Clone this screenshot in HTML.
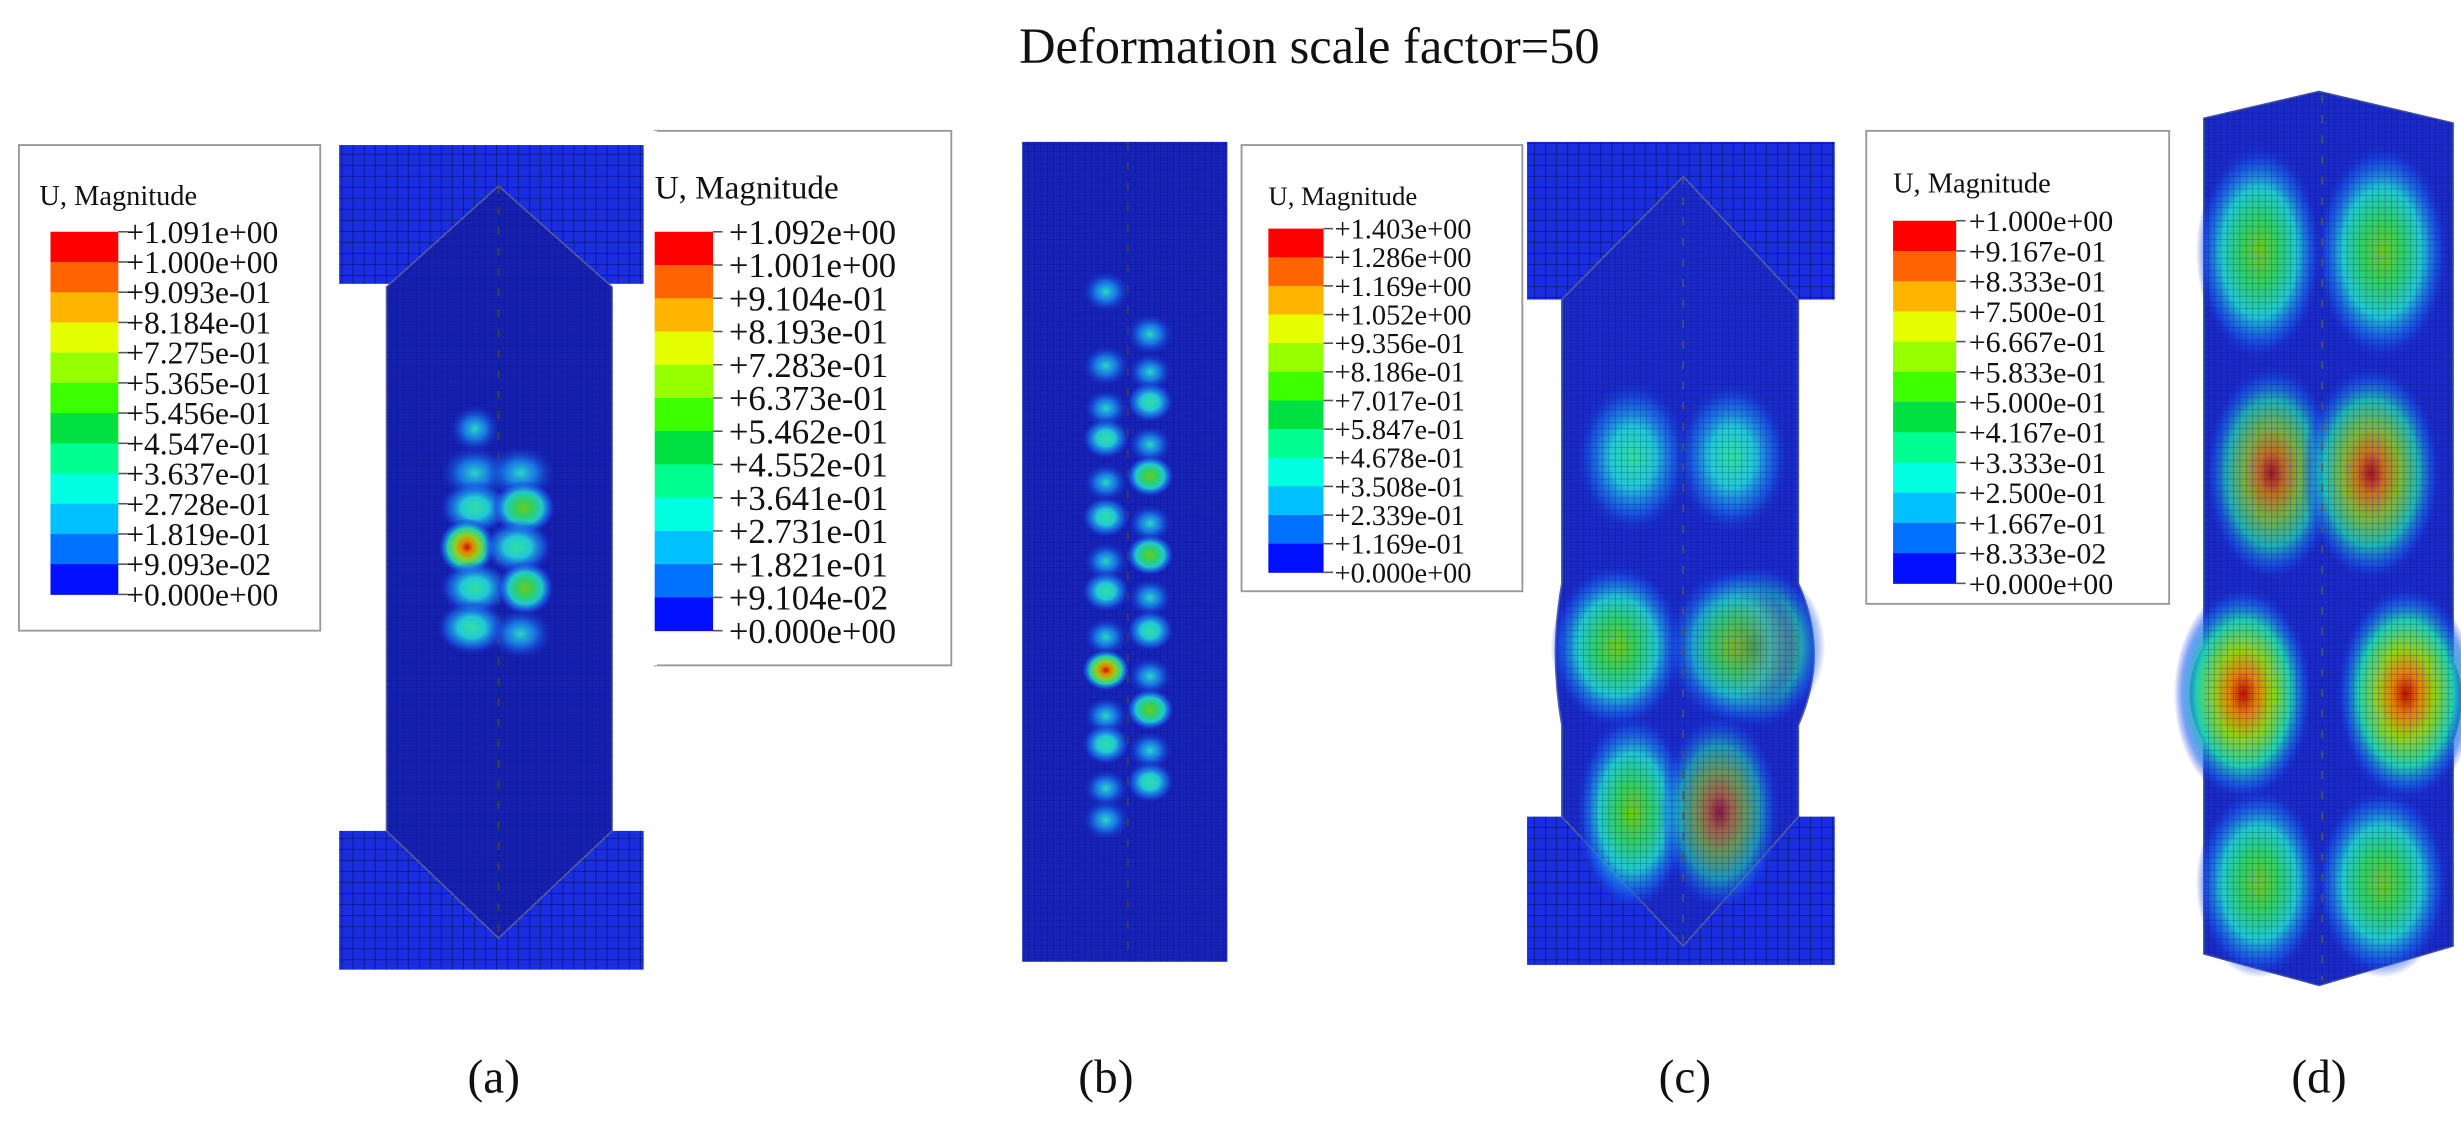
<!DOCTYPE html>
<html><head><meta charset="utf-8"><style>
html,body{margin:0;padding:0;background:#fff;}
svg{display:block;font-family:"Liberation Serif","Times New Roman",serif;}
svg text{font-family:"Liberation Serif","Times New Roman",serif;fill:#111;}
</style></head><body>
<svg id="fig" width="2461" height="1121" viewBox="0 0 1560 711" preserveAspectRatio="none" xmlns="http://www.w3.org/2000/svg" font-family="Liberation Serif, serif">
<defs>
<pattern id="meshF" width="7" height="7" patternUnits="userSpaceOnUse"><path d="M7 0V7H0" fill="none" stroke="#06106a" stroke-width="0.8"/></pattern>
<pattern id="meshC" width="4" height="4" patternUnits="userSpaceOnUse"><path d="M4 0V4H0" fill="none" stroke="#050c60" stroke-width="0.5" opacity="0.6"/></pattern>
<radialGradient id="gBlue"><stop offset="0" stop-color="#2ad8c8"/><stop offset="0.45" stop-color="#1a8cf0" stop-opacity="0.8"/><stop offset="1" stop-color="#1530d0" stop-opacity="0"/></radialGradient>
<radialGradient id="gCyan"><stop offset="0" stop-color="#30e0a0"/><stop offset="0.4" stop-color="#22c8d8"/><stop offset="0.75" stop-color="#1a70f0" stop-opacity="0.6"/><stop offset="1" stop-color="#1530d0" stop-opacity="0"/></radialGradient>
<radialGradient id="gGreen"><stop offset="0" stop-color="#70c820"/><stop offset="0.3" stop-color="#30d060"/><stop offset="0.6" stop-color="#20c8d0"/><stop offset="0.85" stop-color="#1a60f0" stop-opacity="0.6"/><stop offset="1" stop-color="#1530d0" stop-opacity="0"/></radialGradient>
<radialGradient id="gRed"><stop offset="0" stop-color="#c01000"/><stop offset="0.2" stop-color="#e88000"/><stop offset="0.42" stop-color="#90d020"/><stop offset="0.68" stop-color="#20d0b0"/><stop offset="0.88" stop-color="#1a60f0" stop-opacity="0.6"/><stop offset="1" stop-color="#1530d0" stop-opacity="0"/></radialGradient>
</defs>
<text x="830" y="40" font-size="32" text-anchor="middle">Deformation scale factor=50</text>

<!-- Panel a -->
<g>
<rect x="215" y="92" width="193" height="88" fill="#1a2ee0"/><rect x="215" y="92" width="193" height="88" fill="url(#meshF)"/>
<rect x="215" y="527" width="193" height="88" fill="#1a2ee0"/><rect x="215" y="527" width="193" height="88" fill="url(#meshF)"/>
<polygon points="316,118 388,182 388,527 316,595 245,527 245,182" fill="#1620b0" stroke="#5560a0" stroke-width="1"/>
<polygon points="316,118 388,182 388,527 316,595 245,527 245,182" fill="url(#meshC)"/>
<line x1="316" y1="118" x2="316" y2="595" stroke="#444" stroke-width="1" stroke-dasharray="5 8"/>
<ellipse cx="301" cy="272" rx="16" ry="15" fill="url(#gBlue)"/>
<ellipse cx="301" cy="300" rx="22" ry="17" fill="url(#gBlue)"/><ellipse cx="330" cy="300" rx="22" ry="17" fill="url(#gBlue)"/>
<ellipse cx="301" cy="322" rx="22" ry="17" fill="url(#gCyan)"/><ellipse cx="332" cy="322" rx="20" ry="17" fill="url(#gGreen)"/>
<ellipse cx="296" cy="347" rx="18" ry="18" fill="url(#gRed)"/><ellipse cx="328" cy="347" rx="22" ry="17" fill="url(#gCyan)"/>
<ellipse cx="301" cy="373" rx="22" ry="17" fill="url(#gCyan)"/><ellipse cx="333" cy="373" rx="18" ry="17" fill="url(#gGreen)"/>
<ellipse cx="299" cy="398" rx="22" ry="17" fill="url(#gCyan)"/><ellipse cx="330" cy="402" rx="20" ry="16" fill="url(#gBlue)"/>
</g>

<!-- Panel b -->
<g>
<rect x="648" y="90" width="130" height="520" fill="#1622b8"/><rect x="648" y="90" width="130" height="520" fill="url(#meshC)"/>
<line x1="715" y1="90" x2="715" y2="610" stroke="#444" stroke-width="1" stroke-dasharray="5 8"/>
<g id="bBlobs"></g>
</g>

<!-- Panel c -->
<g>
<rect x="968" y="90" width="195" height="100" fill="#1a2ee0"/><rect x="968" y="90" width="195" height="100" fill="url(#meshF)"/>
<rect x="968" y="518" width="195" height="94" fill="#1a2ee0"/><rect x="968" y="518" width="195" height="94" fill="url(#meshF)"/>
<path d="M1067,112 L1140,190 L1140,370 Q1160,415 1140,460 L1140,518 L1067,600 L990,518 L990,460 Q982,415 990,370 L990,190 Z" fill="#1a2ac8" stroke="#5560a0" stroke-width="1"/>
<ellipse cx="1035" cy="290" rx="36" ry="48" fill="url(#gCyan)"/><ellipse cx="1098" cy="290" rx="36" ry="48" fill="url(#gCyan)"/>
<ellipse cx="1025" cy="410" rx="42" ry="52" fill="url(#gGreen)"/><ellipse cx="1112" cy="410" rx="45" ry="52" fill="url(#gRed)" opacity="0.7"/><ellipse cx="1098" cy="410" rx="42" ry="50" fill="url(#gGreen)" opacity="0.7"/>
<ellipse cx="1035" cy="515" rx="36" ry="62" fill="url(#gGreen)"/><ellipse cx="1090" cy="515" rx="38" ry="62" fill="url(#gRed)" opacity="0.65"/>
<path d="M1067,112 L1140,190 L1140,518 L1067,600 L990,518 L990,190 Z" fill="url(#meshC)"/>
<line x1="1067" y1="112" x2="1067" y2="600" stroke="#555" stroke-width="1" stroke-dasharray="5 8"/>
</g>

<!-- Panel d -->
<g>
<path d="M1397,75 L1470,58 L1555,78 L1555,420 Q1565,440 1555,470 L1555,600 L1470,625 L1397,605 L1397,470 Q1380,440 1397,410 Z" fill="#1a2ac8" stroke="#4050a0" stroke-width="1"/>
<ellipse cx="1432" cy="160" rx="40" ry="68" fill="url(#gGreen)"/><ellipse cx="1510" cy="160" rx="42" ry="68" fill="url(#gGreen)"/>
<ellipse cx="1440" cy="300" rx="42" ry="68" fill="url(#gRed)" opacity="0.8"/><ellipse cx="1503" cy="300" rx="44" ry="68" fill="url(#gRed)" opacity="0.85"/>
<ellipse cx="1422" cy="440" rx="44" ry="68" fill="url(#gRed)"/><ellipse cx="1525" cy="440" rx="44" ry="68" fill="url(#gRed)"/>
<ellipse cx="1432" cy="560" rx="40" ry="60" fill="url(#gGreen)"/><ellipse cx="1510" cy="560" rx="42" ry="60" fill="url(#gGreen)"/>
<path d="M1397,75 L1470,58 L1555,78 L1555,600 L1470,625 L1397,605 Z" fill="url(#meshC)"/>
<line x1="1472" y1="60" x2="1472" y2="622" stroke="#555" stroke-width="1" stroke-dasharray="5 8"/>
</g>

<g id="legends"></g>

<text x="313" y="693" font-size="30" text-anchor="middle">(a)</text>
<text x="701" y="693" font-size="30" text-anchor="middle">(b)</text>
<text x="1068" y="693" font-size="30" text-anchor="middle">(c)</text>
<text x="1470" y="693" font-size="30" text-anchor="middle">(d)</text>
</svg>
<script>
const bandColors = ["#ff0000","#ff6400","#ffb400","#e6ff00","#96ff00","#3cff00","#00e040","#00ff90","#00ffe0","#00c0ff","#0070ff","#0010ff"];
const labelsA = ["+1.091e+00","+1.000e+00","+9.093e-01","+8.184e-01","+7.275e-01","+5.365e-01","+5.456e-01","+4.547e-01","+3.637e-01","+2.728e-01","+1.819e-01","+9.093e-02","+0.000e+00"];
const labelsB = ["+1.092e+00","+1.001e+00","+9.104e-01","+8.193e-01","+7.283e-01","+6.373e-01","+5.462e-01","+4.552e-01","+3.641e-01","+2.731e-01","+1.821e-01","+9.104e-02","+0.000e+00"];
const labelsC = ["+1.403e+00","+1.286e+00","+1.169e+00","+1.052e+00","+9.356e-01","+8.186e-01","+7.017e-01","+5.847e-01","+4.678e-01","+3.508e-01","+2.339e-01","+1.169e-01","+0.000e+00"];
const labelsD = ["+1.000e+00","+9.167e-01","+8.333e-01","+7.500e-01","+6.667e-01","+5.833e-01","+5.000e-01","+4.167e-01","+3.333e-01","+2.500e-01","+1.667e-01","+8.333e-02","+0.000e+00"];
const NS = "http://www.w3.org/2000/svg";
function mk(tag, attrs, parent){const e=document.createElementNS(NS,tag);for(const k in attrs)e.setAttribute(k,attrs[k]);parent.appendChild(e);return e;}
const legSpecs = [
 {id:"a",labels:labelsA,box:[12,92,191,308],title:[25,130,18],bar:[32,147,43,230],fs:20,lx:80,left:true},
 {id:"b",labels:labelsB,box:[415,83,188,339],title:[415,126,21],bar:[415,147,37,253],fs:22,lx:462,left:false},
 {id:"c",labels:labelsC,box:[787,92,178,283],title:[804,130,17],bar:[804,145,35,218],fs:18,lx:846,left:true},
 {id:"d",labels:labelsD,box:[1183,83,192,300],title:[1200,122,18],bar:[1200,140,40,230],fs:19,lx:1248,left:true}
];
const lg = document.getElementById("legends");
legSpecs.forEach(s=>{
  const g = mk("g",{},lg);
  
  
  const [bx,by,bw,bh]=s.box;
  mk("rect",{x:bx,y:by,width:bw,height:bh,fill:"#fff",stroke:"#999","stroke-width":1.2},g);
  if(!s.left){ mk("line",{x1:bx,y1:by,x2:bx,y2:by+bh,stroke:"#fff","stroke-width":3},g); }
  const t = mk("text",{x:s.title[0],y:s.title[1],"font-size":s.title[2],"font-family":"Liberation Serif, serif"},g);
  t.textContent="U, Magnitude";
  
  
  const [cx,cy,cw,ch]=s.bar; const n=bandColors.length; const h=ch/n;
  bandColors.forEach((c,i)=>{
    const b = mk("rect",{x:cx,y:cy+i*h,width:cw,height:h+0.3,fill:c},g);
    
    
  });
  s.labels.forEach((l,i)=>{
    const y=cy+i*h;
    mk("line",{x1:cx+cw,y1:y,x2:cx+cw+6,y2:y,stroke:"#555","stroke-width":1},g);
    const tx = mk("text",{x:s.lx,y:y+s.fs*0.35,"font-size":s.fs,"font-family":"Liberation Serif, serif"},g);
    tx.textContent=l;
    
    
  });
});
const bBlobRows = [185,212,232,255,278,302,328,352,375,400,425,450,472,496,520];
const bBlobKinds = ["gBlue","gBlue","gBlue","gCyan","gCyan","gGreen","gCyan","gGreen","gCyan","gCyan","gRed","gGreen","gCyan","gCyan","gBlue"];
const bb = document.getElementById("bBlobs");
bBlobRows.forEach((y,i)=>{
  const side = i%2===0 ? -1 : 1;
  const e1 = mk("ellipse",{cx:715+side*14,cy:y,rx:15,ry:13,fill:"url(#"+bBlobKinds[i]+")"},bb);
  
  
  if(i>1 && i<14){
    const e2 = mk("ellipse",{cx:715-side*14,cy:y+4,rx:14,ry:12,fill:"url(#gBlue)"},bb);
    
    
  }
});
</script>
</body></html>
